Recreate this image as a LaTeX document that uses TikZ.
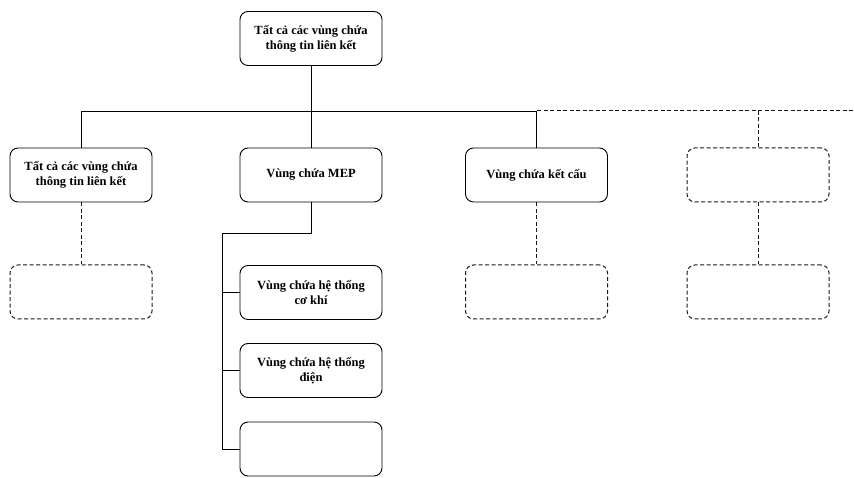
\documentclass[tikz,border=0pt]{standalone}
\usepackage{fontspec}
\setmainfont{Liberation Serif}
\begin{document}
\begin{tikzpicture}[x=1pt,y=-1pt,
  box/.style={draw, line width=0.9pt, rounded corners=8pt, minimum width=142pt, minimum height=54pt, align=center, font=\fontsize{12.5}{15}\selectfont\bfseries, inner sep=2pt},
  dbox/.style={box, dashed, dash pattern=on 4pt off 2.5pt, draw=black!90, line width=1pt},
  ln/.style={line width=0.8pt},
  dl/.style={ln, dashed, dash pattern=on 4pt off 2.5pt, draw=black!90, line width=1pt}]
\useasboundingbox (0,0) rectangle (854,478);
\node[box] (top) at (311,38.5) {Tất cả các vùng chứa\\thông tin liên kết};
\node[box] (b1) at (81,175) {Tất cả các vùng chứa\\thông tin liên kết};
\node[box] (mep) at (311,175) {Vùng chứa MEP};
\node[box] (st) at (536.5,175) {Vùng chứa kết cấu};
\node[dbox] (x4) at (758,175) {};
\node[dbox] (d1) at (81,292) {};
\node[dbox] (d3) at (536.5,292) {};
\node[dbox] (d4) at (758,292) {};
\node[box] (c1) at (311,292.5) {Vùng chứa hệ thống\\cơ khí};
\node[box] (c2) at (311,370.5) {Vùng chứa hệ thống\\điện};
\node[box] (c3) at (311,449) {};
\coordinate (bus) at (311,111);
\coordinate (busend) at (856,111);
\coordinate (tr) at (222,233);
\draw[ln] (top.south) -- (bus);
\draw[ln] (b1.north) |- (bus);
\draw[ln] (st.north) |- (bus);
\draw[ln] (mep.north) -- (bus);
\draw[dl] (x4.north) |- (st.north |- bus);
\draw[dl] (x4.north |- bus) -- (busend);
\draw[dl] (b1.south) -- (d1.north);
\draw[dl] (st.south) -- (d3.north);
\draw[dl] (x4.south) -- (d4.north);
\draw[ln] (mep.south) |- (tr) |- (c3.west);
\draw[ln] (c1.west) -- (c1.west -| tr);
\draw[ln] (c2.west) -- (c2.west -| tr);
\end{tikzpicture}
\end{document}
